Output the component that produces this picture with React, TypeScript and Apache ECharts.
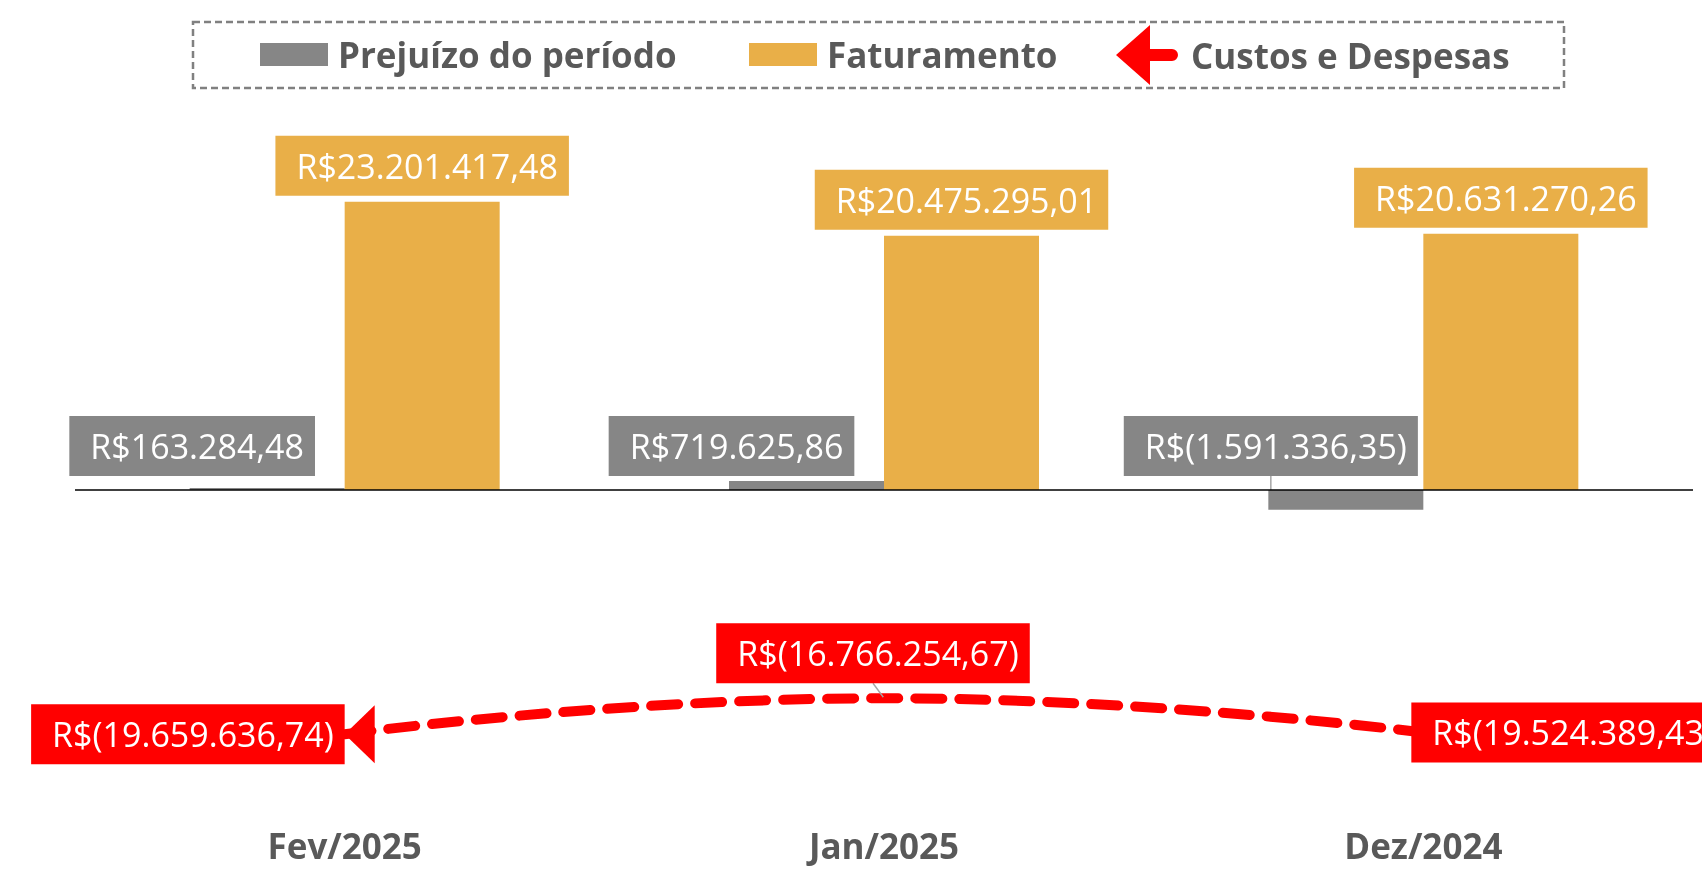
import React, { useEffect, useRef } from "react";
import * as echarts from "echarts";

const categories = ["Fev/2025", "Jan/2025", "Dez/2024"];
const prejuizo = [163284.48, 719625.86, -1591336.35];
const faturamento = [23201417.48, 20475295.01, 20631270.26];
const custos = [-19659636.74, -16766254.67, -19524389.43];

const GRAY = "#868686";
const GOLD = "#E9AF48";
const RED = "#FF0000";
const TXT = "#595959";
const FONT = "'Open Sans', 'Noto Sans', sans-serif";

function brl(v: number): string {
  const a = Math.abs(v);
  const [i, d] = a.toFixed(2).split(".");
  const ii = i.replace(/\B(?=(\d{3})+(?!\d))/g, ".");
  const s = ii + "," + d;
  return v < 0 ? `R$(${s})` : `R$${s}`;
}

const labelBase = {
  show: true,
  color: "#FFFFFF",
  fontFamily: FONT,
  fontSize: 34,
  padding: [13, 11, 13, 21],
  formatter: (p: any) => brl(p.value),
};

export default function App() {
  const ref = useRef<HTMLDivElement>(null);
  useEffect(() => {
    if (!ref.current) return;
    const chart = echarts.init(ref.current, undefined, { renderer: "svg" });
    const legendText = { color: TXT, fontFamily: FONT, fontSize: 35, fontWeight: "bold" as const, padding: [0, 0, 0, 5] };
    const option: any = {
      animation: false,
      grid: { left: 75, right: 9, top: 179.5, bottom: 68.5, containLabel: false },
      graphic: [
        {
          type: "rect",
          shape: { x: 193, y: 22, width: 1371, height: 66 },
          style: { fill: "none", stroke: "#808080", lineWidth: 2.5, lineDash: [7, 4] },
          silent: true,
        },
      ],
      legend: [
        {
          data: ["Prejuízo do período"],
          left: 260, top: 37, padding: 0,
          icon: "rect", itemWidth: 68, itemHeight: 23,
          textStyle: legendText,
        },
        {
          data: ["Faturamento"],
          left: 749, top: 37, padding: 0,
          icon: "rect", itemWidth: 68, itemHeight: 23,
          textStyle: legendText,
        },
        {
          data: [{ name: "Custos e Despesas", icon: "path://M0,30 L34,0 L34,24 L56,24 A6,6 0 0 1 56,36 L34,36 L34,60 Z" }],
          left: 1116, top: 25, padding: 0,
          itemWidth: 62, itemHeight: 60,
          textStyle: { ...legendText, padding: [0, 0, 0, 8] },
        },
      ],
      xAxis: {
        type: "category",
        data: categories,
        axisLine: { show: false, onZero: false },
        axisTick: { show: false },
        splitLine: { show: false },
        axisLabel: { color: TXT, fontFamily: FONT, fontSize: 35, fontWeight: "bold", margin: 27 },
      },
      yAxis: {
        type: "value",
        min: -25000000,
        max: 25000000,
        show: false,
        splitLine: { show: false },
      },
      series: [
        {
          name: "Prejuízo do período",
          type: "bar",
          barWidth: 155,
          barGap: "0%",
          itemStyle: { color: GRAY },
          data: prejuizo.map((v) => (v < 0 ? { value: v, labelLine: { show: true, lineStyle: { color: "#A6A6A6", width: 1.5 } } } : { value: v })),
          label: { ...labelBase, backgroundColor: GRAY, position: "top" },
          labelLayout: (p: any) => {
            const neg = prejuizo[p.dataIndex] < 0;
            const zeroY = neg ? p.rect.y : p.rect.y + p.rect.height;
            const bx = p.rect.x + p.rect.width / 2;
            return { x: bx - 75, y: zeroY - 44, align: "center", verticalAlign: "middle" };
          },
        },
        {
          name: "Faturamento",
          type: "bar",
          barWidth: 155,
          barGap: "0%",
          itemStyle: { color: GOLD },
          data: faturamento,
          label: { ...labelBase, backgroundColor: GOLD, position: "top", distance: 6 },
          markLine: {
            silent: true,
            symbol: "none",
            label: { show: false },
            lineStyle: { color: "#000000", width: 1.5, type: "solid" },
            data: [{ yAxis: 0 }],
          },
        },
        {
          name: "Custos e Despesas",
          type: "line",
          smooth: 0.5,
          itemStyle: { color: RED },
          lineStyle: { color: RED, width: 10, type: [27, 17], cap: "round" },
          symbol: "circle",
          symbolSize: 2,
          showSymbol: true,
          z: 3,
          data: custos.map((v, i) => {
            if (i === 0)
              return {
                value: v,
                symbol: "path://M0,29 L30,0 L30,58 Z",
                symbolSize: [30, 58],
                symbolOffset: [15, 0],
                label: { position: "left", distance: 0 },
              };
            if (i === 1)
              return {
                value: v,
                label: { position: "top", distance: 14 },
                labelLine: { show: true, lineStyle: { color: "#A6A6A6", width: 1.5 } },
              };
            return { value: v, label: { position: "right", distance: 0 } };
          }),
          label: { ...labelBase, backgroundColor: RED },
          labelLayout: (p: any) => {
            if (p.dataIndex === 2) return { dx: -13 };
            if (p.dataIndex !== 1) return {};
            const lx = p.labelRect.x + p.labelRect.width / 2 - 11;
            const ly = p.labelRect.y + p.labelRect.height;
            const px = p.rect.x + p.rect.width / 2;
            const py = p.rect.y + p.rect.height / 2;
            return { dx: -11, labelLinePoints: [[lx, ly], [lx, ly], [px, py]] };
          },
        },
      ],
    };
    chart.setOption(option);
    chart.setOption(option);
    return () => chart.dispose();
  }, []);
  return <div ref={ref} style={{ position: "fixed", left: 0, top: 0, width: 1702, height: 869 }} />;
}
